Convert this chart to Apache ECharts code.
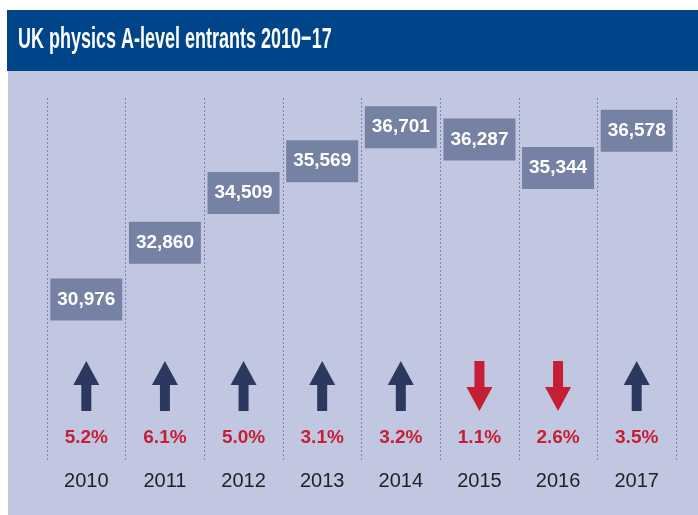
<!DOCTYPE html>
<html>
<head>
<meta charset="utf-8">
<script src="https://cdn.jsdelivr.net/npm/echarts@6/dist/echarts.min.js"></script>
<style>
  html, body { margin: 0; padding: 0; background: #fff; }
  #main { width: 698px; height: 515px; }
</style>
</head>
<body>
<div id="main"></div>
<script>
// data
var years = ['2010', '2011', '2012', '2013', '2014', '2015', '2016', '2017'];
var entrants = [30976, 32860, 34509, 35569, 36701, 36287, 35344, 36578];
var change = [5.2, 6.1, 5.0, 3.1, 3.2, -1.1, -2.6, 3.5]; // % year on year

var navy = '#2b3961', red = '#c51f35', boxColor = '#7582a4';
var upArrow = 'path://M13,0 L26,24 L18,24 L18,50 L8,50 L8,24 L0,24 Z';
var downArrow = 'path://M8,0 L18,0 L18,26 L26,26 L13,50 L0,26 L8,26 Z';

var myChart = echarts.init(document.getElementById('main'));

var option = {
  animation: false,
  backgroundColor: '#fff',
  graphic: [
    { type: 'rect', z: -10, shape: { x: 8, y: 71, width: 690, height: 444 }, style: { fill: '#c2c7e1' } },
    { type: 'rect', z: -10, shape: { x: 7, y: 10, width: 691, height: 61 }, style: { fill: '#00448a' } },
    {
      type: 'text', x: 18, y: 40, scaleX: 0.6,
      style: {
        text: 'UK physics A-level entrants 2010\u221217',
        fill: '#fff', fontSize: 30, fontWeight: 'bold',
        fontFamily: 'Liberation Sans', verticalAlign: 'middle'
      }
    }
  ],
  grid: [
    { left: 47, right: 22, top: 98, height: 362 },   // value boxes
    { left: 47, right: 22, top: 361, height: 50 }    // arrows
  ],
  xAxis: [{
    gridIndex: 0,
    type: 'category',
    data: years,
    axisLine: { show: false },
    axisTick: { show: false },
    axisLabel: { margin: 11, fontSize: 20, color: '#231f20', fontFamily: 'Liberation Sans' },
    splitLine: { show: true, lineStyle: { type: [2, 2], color: '#7a83a8', width: 1 } }
  }, {
    gridIndex: 1,
    type: 'category',
    data: years,
    show: false
  }],
  yAxis: [{
    gridIndex: 0,
    type: 'value',
    min: 25640,
    max: 37670,
    show: false
  }, {
    gridIndex: 1,
    type: 'value',
    min: -1,
    max: 1,
    show: false
  }],
  series: [{
    type: 'scatter',
    xAxisIndex: 0, yAxisIndex: 0,
    symbol: 'rect',
    symbolSize: [72, 42],
    itemStyle: { color: boxColor, opacity: 1 },
    label: {
      show: true, position: 'inside',
      color: '#fff', fontSize: 19, fontWeight: 'bold', fontFamily: 'Liberation Sans',
      formatter: function (p) { return p.value[1].toLocaleString('en-GB'); }
    },
    data: entrants.map(function (v, i) { return [i, v]; })
  }, {
    type: 'scatter',
    xAxisIndex: 1, yAxisIndex: 1,
    symbolSize: [26, 50],
    label: {
      show: true, position: 'bottom', distance: 17,
      color: red, fontSize: 19, fontWeight: 'bold', fontFamily: 'Liberation Sans',
      formatter: function (p) { return Math.abs(change[p.dataIndex]).toFixed(1) + '%'; }
    },
    data: change.map(function (c, i) {
      return {
        value: [i, 0],
        symbol: c < 0 ? downArrow : upArrow,
        itemStyle: { color: c < 0 ? red : navy, opacity: 1 }
      };
    })
  }]
};

myChart.setOption(option);
</script>
</body>
</html>
